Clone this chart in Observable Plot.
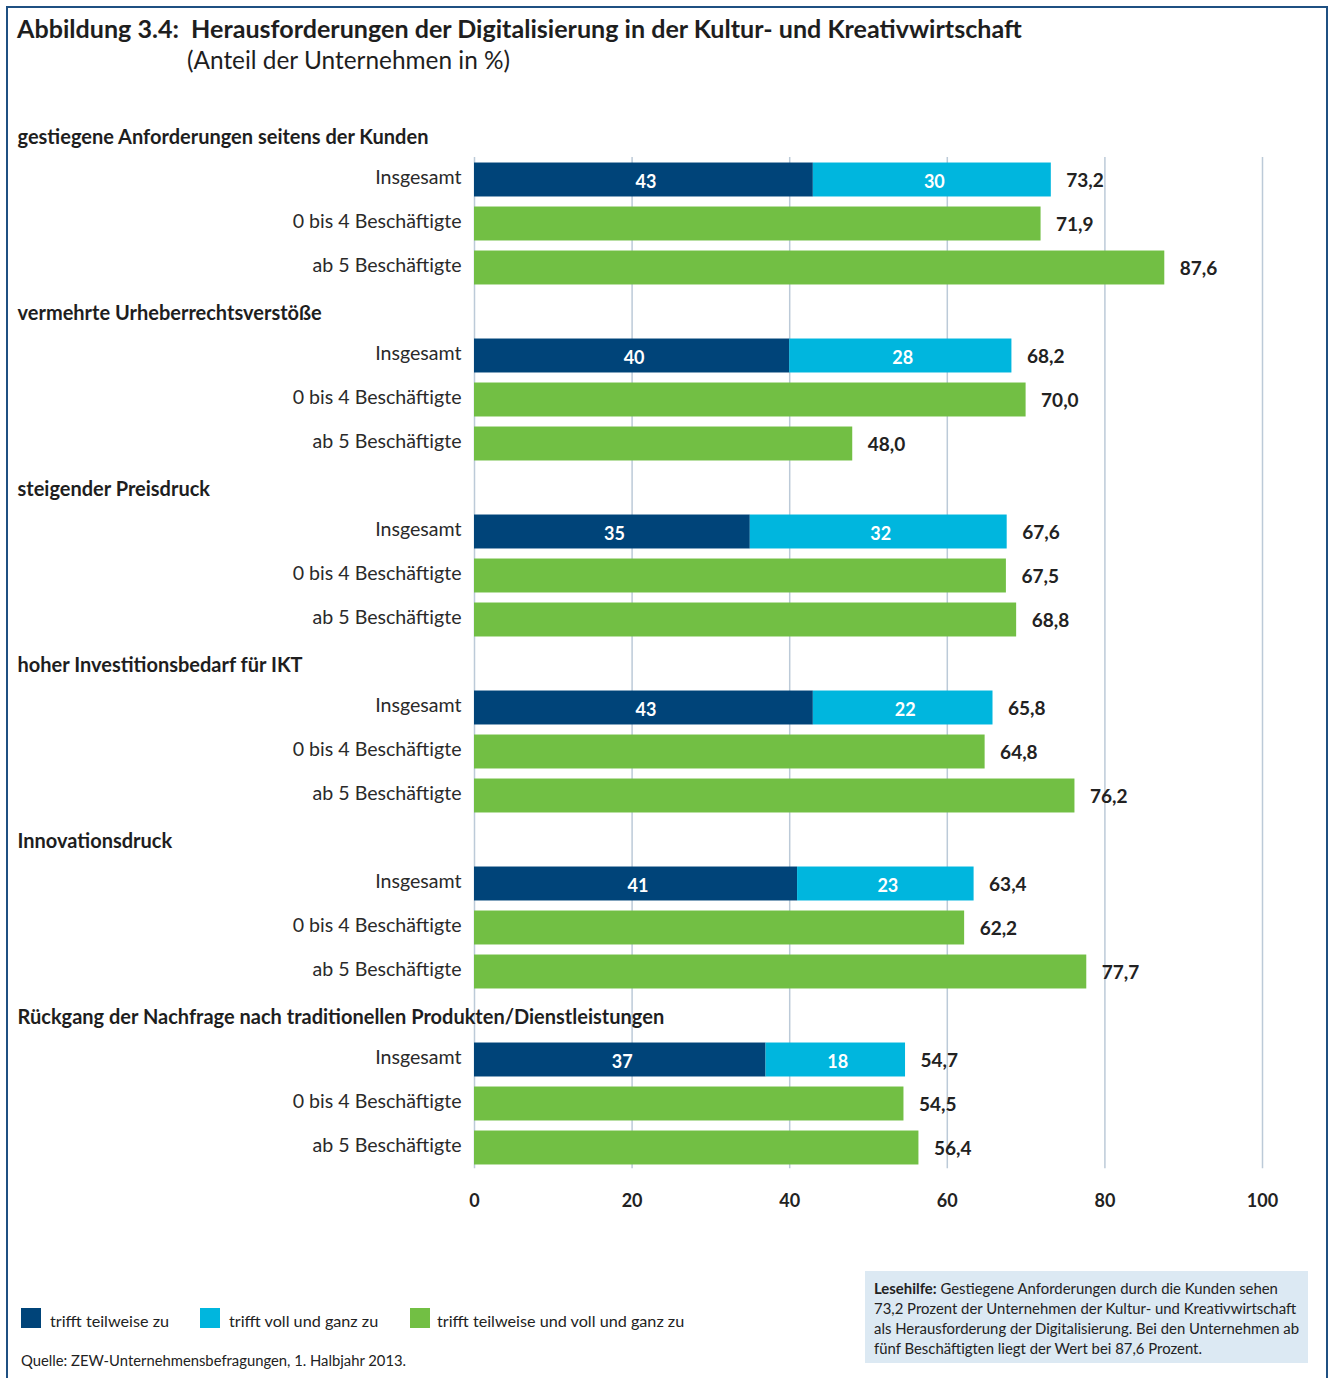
<!DOCTYPE html>
<html><head><meta charset="utf-8">
<script src="https://cdn.jsdelivr.net/npm/d3@7"></script>
<script src="https://cdn.jsdelivr.net/npm/@observablehq/plot@0.6"></script>
<style>
body{margin:0;background:#fff;font-family:Lato,"Open Sans",sans-serif;color:#222;}
#wrap{position:relative;width:1331px;height:1378px;overflow:hidden;background:#fff;}
#frame{position:absolute;left:6px;top:6px;width:1322px;height:1420px;border:2px solid #1f5082;box-sizing:border-box;border-bottom:none;}
#title{position:absolute;left:17px;top:13px;font-size:25.1px;font-weight:700;white-space:nowrap;color:#1e1e1e;}
#subtitle{position:absolute;left:187px;top:45px;font-size:24.4px;font-weight:400;white-space:nowrap;color:#1e1e1e;}
#chart{position:absolute;left:0;top:0;}
#legend{position:absolute;left:21px;top:1308px;font-size:16.2px;color:#222;}
.sw{position:absolute;top:0;width:20px;height:20px;}
.lt{position:absolute;top:3px;white-space:nowrap;}
#source{position:absolute;left:21px;top:1351px;font-size:14.8px;color:#222;white-space:nowrap;}
#help{position:absolute;left:865px;top:1271px;width:443px;height:92px;background:#dce9f3;box-sizing:border-box;padding:7px 0 0 9px;font-size:14.9px;line-height:20px;color:#222;white-space:nowrap;}
</style></head>
<body>
<div id="wrap">
  <div id="frame"></div>
  <div id="title">Abbildung 3.4:&nbsp; Herausforderungen der Digitalisierung in der Kultur- und Kreativwirtschaft</div>
  <div id="subtitle">(Anteil der Unternehmen in %)</div>
  <div id="chart"></div>
  <div id="legend"></div>
  <div id="source">Quelle: ZEW-Unternehmensbefragungen, 1. Halbjahr 2013.</div>
  <div id="help"><b>Lesehilfe:</b> Gestiegene Anforderungen durch die Kunden sehen<br>73,2 Prozent der Unternehmen der Kultur- und Kreativwirtschaft<br>als Herausforderung der Digitalisierung. Bei den Unternehmen ab<br>fünf Beschäftigten liegt der Wert bei 87,6 Prozent.</div>
</div>
<script>
// ---- data ----
const groups = [
  "gestiegene Anforderungen seitens der Kunden",
  "vermehrte Urheberrechtsverstöße",
  "steigender Preisdruck",
  "hoher Investitionsbedarf für IKT",
  "Innovationsdruck",
  "Rückgang der Nachfrage nach traditionellen Produkten/Dienstleistungen"
];
const rowLabels = ["Insgesamt", "0 bis 4 Beschäftigte", "ab 5 Beschäftigte"];
const trifftTeilweise = [43, 40, 35, 43, 41, 37];
const trifftVoll = [30, 28, 32, 22, 23, 18];
const insgesamt = [73.2, 68.2, 67.6, 65.8, 63.4, 54.7];
const bis4 = [71.9, 70.0, 67.5, 64.8, 62.2, 54.5];
const ab5 = [87.6, 48.0, 68.8, 76.2, 77.7, 56.4];
const xTicks = [0, 20, 40, 60, 80, 100];
const legendItems = ["trifft teilweise zu", "trifft voll und ganz zu", "trifft teilweise und voll und ganz zu"];

// ---- styles ----
const C_DARK = "#004479", C_CYAN = "#00b6de", C_GREEN = "#72bf44", C_GRID = "#bccad8";
const fmt = v => v.toFixed(1).replace(".", ",");

// ---- derived tables ----
const headers = groups.map((g, i) => ({slot: 4 * i, text: g}));
const labels = [];
const segs = [];
const totals = [];
groups.forEach((g, i) => {
  const s = 4 * i;
  rowLabels.forEach((r, j) => labels.push({slot: s + 1 + j, text: r}));
  segs.push({slot: s + 1, x1: 0, x2: trifftTeilweise[i], fill: C_DARK, label: String(trifftTeilweise[i])});
  segs.push({slot: s + 1, x1: trifftTeilweise[i], x2: insgesamt[i], fill: C_CYAN, label: String(trifftVoll[i])});
  segs.push({slot: s + 2, x1: 0, x2: bis4[i], fill: C_GREEN, label: null});
  segs.push({slot: s + 3, x1: 0, x2: ab5[i], fill: C_GREEN, label: null});
  totals.push({slot: s + 1, v: insgesamt[i]});
  totals.push({slot: s + 2, v: bis4[i]});
  totals.push({slot: s + 3, v: ab5[i]});
});

const H = 0.386;
const chart = Plot.plot({
  width: 1331,
  height: 1240,
  marginLeft: 474, marginRight: 69, marginTop: 100, marginBottom: 72,
  x: {domain: [0, 100], range: [474, 1262], ticks: xTicks, tickFormat: d => String(d)},
  y: {domain: [0, 23], range: [135.5, 1147.5], axis: null},
  color: {type: "identity"},
  style: {fontFamily: "Lato, 'Open Sans', sans-serif", color: "#222", background: "transparent", overflow: "visible"},
  marks: [
    Plot.ruleX(xTicks, {x: d => d, y1: () => 0.49, y2: () => 23.47, stroke: C_GRID, strokeWidth: 1.5}),
    Plot.rectX(segs, {x1: "x1", x2: "x2", y1: d => d.slot - H, y2: d => d.slot + H, fill: "fill"}),
    Plot.text(segs.filter(d => d.label), {x: d => (d.x1 + d.x2) / 2, y: "slot", text: "label", fill: "white", fontWeight: 700, fontSize: 18, dx: 2, dy: 2}),
    Plot.text(totals, {x: "v", y: "slot", text: d => fmt(d.v), textAnchor: "start", dx: 15, dy: 1, fontWeight: 700, fontSize: 19, fill: "#222"}),
    Plot.text(labels, {x: () => 0, y: "slot", text: "text", textAnchor: "end", dx: -13, dy: -2, fontSize: 19.6, fill: "#2a2a2a"}),
    Plot.text(headers, {x: () => 0, y: "slot", text: "text", textAnchor: "start", dx: -457, dy: 2, fontSize: 20, fontWeight: 700, fill: "#1e1e1e"}),
    Plot.axisX(xTicks, {tickSize: 0, tickPadding: 26, fontSize: 18, fontWeight: 700, fill: "#222"})
  ]
});
document.getElementById("chart").appendChild(chart);

// ---- legend ----
const legendColors = [C_DARK, C_CYAN, C_GREEN];
const legendPos = [[0, 29], [179, 208], [389, 416]];
const lg = document.getElementById("legend");
legendItems.forEach((t, i) => {
  const sw = document.createElement("div");
  sw.className = "sw"; sw.style.left = legendPos[i][0] + "px"; sw.style.background = legendColors[i];
  const tx = document.createElement("div");
  tx.className = "lt"; tx.style.left = legendPos[i][1] + "px"; tx.textContent = t;
  lg.appendChild(sw); lg.appendChild(tx);
});
</script>
</body></html>
